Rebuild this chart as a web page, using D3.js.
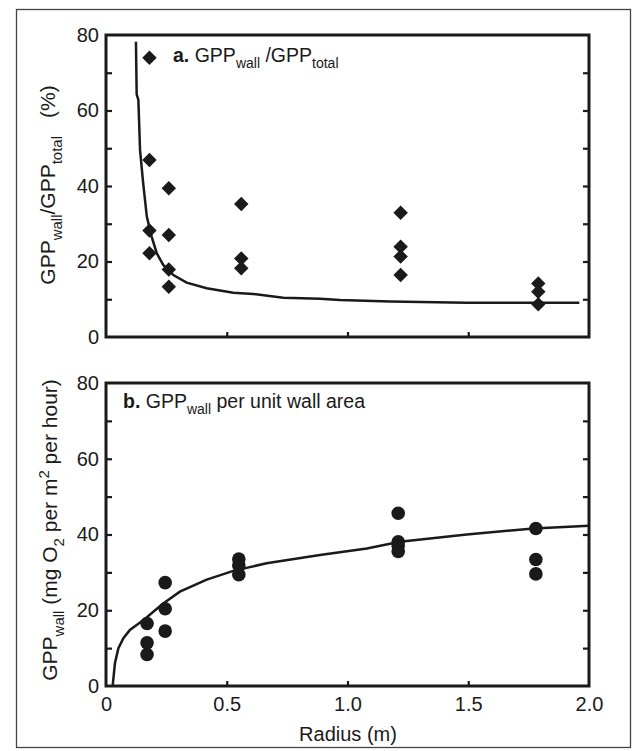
<!DOCTYPE html>
<html>
<head>
<meta charset="utf-8">
<script src="https://cdn.jsdelivr.net/npm/d3@7"></script>
<style>
  html, body { margin: 0; padding: 0; background: #fff; }
  svg { display: block; font-family: "Liberation Sans", Arial, sans-serif; }
</style>
</head>
<body>
<svg id="chart" width="636" height="751"></svg>
<script>
// Radius of each pool (m) and measured values
const radiusA = [0.18, 0.18, 0.18, 0.18, 0.26, 0.26, 0.26, 0.26, 0.56, 0.56, 0.56, 1.22, 1.22, 1.22, 1.22, 1.79, 1.79, 1.79];
const shareWall = [74, 46.9, 28.2, 22.2, 39.4, 27.0, 17.9, 13.3, 35.2, 20.8, 18.2, 32.9, 23.9, 21.3, 16.4, 14.2, 12.0, 8.7];

const radiusB = [0.17, 0.17, 0.17, 0.245, 0.245, 0.245, 0.55, 0.55, 0.55, 1.21, 1.21, 1.21, 1.21, 1.78, 1.78, 1.78];
const gppWall = [16.5, 11.4, 8.3, 27.3, 20.4, 14.5, 33.5, 31.8, 29.4, 45.6, 38.1, 37.0, 35.5, 41.6, 33.4, 29.6];

// Model curves
const curveAx = [0.124, 0.127, 0.134, 0.141, 0.154, 0.169, 0.189, 0.210, 0.237, 0.279, 0.334, 0.417, 0.527, 0.610, 0.734, 0.886, 0.969, 1.176, 1.494, 1.960];
const curveAy = [78.2, 64.3, 62.8, 49.5, 40.7, 31.9, 26.6, 22.2, 19.1, 16.4, 14.4, 12.9, 11.7, 11.4, 10.4, 10.1, 9.8, 9.4, 9.1, 9.1];

const curveBx = [0.028, 0.037, 0.051, 0.072, 0.099, 0.127, 0.155, 0.196, 0.237, 0.306, 0.417, 0.527, 0.665, 0.886, 1.080, 1.217, 1.494, 1.770, 2.0];
const curveBy = [0.3, 6.0, 9.9, 12.6, 14.8, 16.1, 17.4, 19.6, 21.8, 24.9, 28.1, 30.4, 32.4, 34.6, 36.3, 38.1, 40.0, 41.6, 42.3];

const xTicks = [0, 0.5, 1.0, 1.5, 2.0];
const xTickLabels = ["0", "0.5", "1.0", "1.5", "2.0"];
const yTicks = [0, 20, 40, 60, 80];
const yMinor = [10, 20, 30, 40, 50, 60, 70];

const ink = "#1a1a1a";
const font = "'Liberation Sans', Arial, sans-serif";
const svg = d3.select("#chart");

// outer frame
svg.append("rect")
  .attr("x", 16.5).attr("y", 9.5).attr("width", 614).attr("height", 738)
  .attr("fill", "none").attr("stroke", "#444").attr("stroke-width", 1.3);

const x = d3.scaleLinear().domain([0, 2]).range([106, 589]);

function panel(yRange, showXLabels) {
  const y = d3.scaleLinear().domain([0, 80]).range(yRange);
  const g = svg.append("g");
  // inward ticks, left & right
  g.append("g").attr("transform", `translate(${x(0)},0)`)
    .call(d3.axisRight(y).tickValues(yMinor).tickSize(6).tickFormat(""))
    .call(s => s.select(".domain").remove())
    .selectAll("line").attr("stroke", ink).attr("stroke-width", 2.2);
  g.append("g").attr("transform", `translate(${x(2)},0)`)
    .call(d3.axisLeft(y).tickValues(yMinor).tickSize(6).tickFormat(""))
    .call(s => s.select(".domain").remove())
    .selectAll("line").attr("stroke", ink).attr("stroke-width", 2.2);
  // inward ticks on bottom
  g.append("g").attr("transform", `translate(0,${y(0)})`)
    .call(d3.axisTop(x).tickValues([0.5, 1.0, 1.5]).tickSize(5).tickFormat(""))
    .call(s => s.select(".domain").remove())
    .selectAll("line").attr("stroke", ink).attr("stroke-width", 2.2);
  // y tick labels
  g.append("g").attr("transform", `translate(${x(0)},0)`)
    .call(d3.axisLeft(y).tickValues(yTicks).tickSize(0).tickPadding(7).tickFormat(d3.format("d")))
    .call(s => s.select(".domain").remove())
    .selectAll("text").attr("fill", ink).attr("font-size", 20).attr("font-family", font);
  if (showXLabels) {
    g.append("g").attr("transform", `translate(0,${y(0)})`)
      .call(d3.axisBottom(x).tickValues(xTicks).tickSize(0).tickPadding(11)
        .tickFormat((d, i) => xTickLabels[i]))
      .call(s => s.select(".domain").remove())
      .selectAll("text").attr("fill", ink).attr("font-size", 20).attr("font-family", font);
  }
  // plot frame
  g.append("rect")
    .attr("x", x(0)).attr("y", y(80))
    .attr("width", x(2) - x(0)).attr("height", y(0) - y(80))
    .attr("fill", "none").attr("stroke", ink).attr("stroke-width", 3);
  return { g, y };
}

// ---- panel a ----
const pa = panel([337, 35], false);
const lineA = d3.line().x(d => x(d[0])).y(d => pa.y(d[1]));
pa.g.append("path")
  .datum(curveAx.map((v, i) => [v, curveAy[i]]))
  .attr("d", lineA).attr("fill", "none").attr("stroke", ink).attr("stroke-width", 2.5);
pa.g.selectAll("path.pt")
  .data(radiusA.map((v, i) => [v, shareWall[i]]))
  .join("path").attr("class", "pt")
  .attr("transform", d => `translate(${x(d[0])},${pa.y(d[1])}) rotate(45)`)
  .attr("d", d3.symbol(d3.symbolSquare, 105)())
  .attr("fill", ink);

const ta = pa.g.append("text").attr("x", 173).attr("y", 62)
  .attr("font-size", 19.5).attr("fill", ink);
ta.append("tspan").attr("font-weight", "bold").text("a.");
ta.append("tspan").text(" GPP");
ta.append("tspan").attr("font-size", 14).attr("dy", 6).text("wall");
ta.append("tspan").attr("dy", -6).text(" /GPP");
ta.append("tspan").attr("font-size", 14).attr("dy", 6).text("total");

const la = svg.append("text")
  .attr("transform", `translate(55,185) rotate(-90)`)
  .attr("text-anchor", "middle").attr("font-size", 21).attr("fill", ink);
la.append("tspan").text("GPP");
la.append("tspan").attr("font-size", 15).attr("dy", 7).text("wall");
la.append("tspan").attr("dy", -7).text("/GPP");
la.append("tspan").attr("font-size", 15).attr("dy", 7).text("total");
la.append("tspan").attr("dy", -7).attr("dx", 18).text("(%)");

// ---- panel b ----
const pb = panel([686, 383], true);
const lineB = d3.line().x(d => x(d[0])).y(d => pb.y(d[1]));
pb.g.append("path")
  .datum(curveBx.map((v, i) => [v, curveBy[i]]))
  .attr("d", lineB).attr("fill", "none").attr("stroke", ink).attr("stroke-width", 2.5);
pb.g.selectAll("circle.pt")
  .data(radiusB.map((v, i) => [v, gppWall[i]]))
  .join("circle").attr("class", "pt")
  .attr("cx", d => x(d[0])).attr("cy", d => pb.y(d[1]))
  .attr("r", 6.8).attr("fill", ink);

const tb = pb.g.append("text").attr("x", 123).attr("y", 408)
  .attr("font-size", 19.5).attr("fill", ink);
tb.append("tspan").attr("font-weight", "bold").text("b.");
tb.append("tspan").text(" GPP");
tb.append("tspan").attr("font-size", 14).attr("dy", 6).text("wall");
tb.append("tspan").attr("dy", -6).text(" per unit wall area");

const lb = svg.append("text")
  .attr("transform", `translate(57,530) rotate(-90)`)
  .attr("text-anchor", "middle").attr("font-size", 21).attr("fill", ink);
lb.append("tspan").text("GPP");
lb.append("tspan").attr("font-size", 15).attr("dy", 7).text("wall");
lb.append("tspan").attr("dy", -7).text(" (mg O");
lb.append("tspan").attr("font-size", 15).attr("dy", 7).text("2");
lb.append("tspan").attr("dy", -7).text(" per m");
lb.append("tspan").attr("font-size", 15).attr("dy", -8).text("2");
lb.append("tspan").attr("dy", 8).text(" per hour)");

svg.append("text").attr("x", 348).attr("y", 741)
  .attr("text-anchor", "middle").attr("font-size", 20).attr("fill", ink)
  .text("Radius (m)");
</script>
</body>
</html>
